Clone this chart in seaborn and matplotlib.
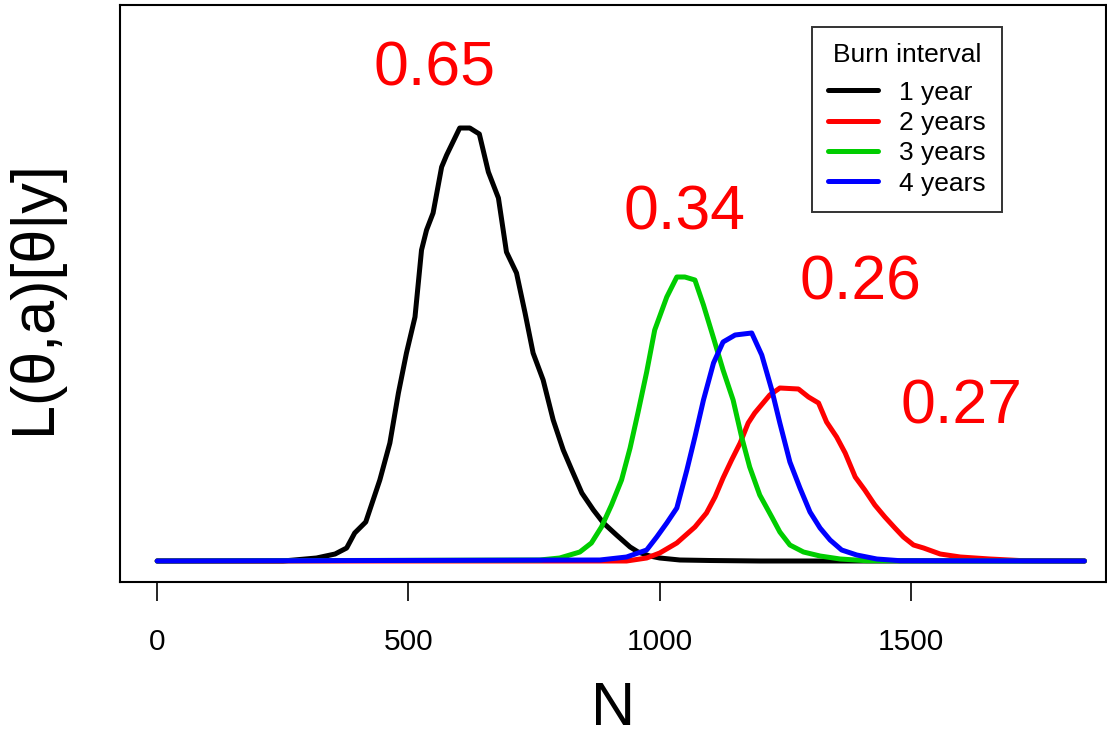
import pandas as pd
import seaborn as sns
import matplotlib
matplotlib.use("Agg")
import matplotlib.pyplot as plt

# curve vertices (N, relative likelihood, arbitrary units)
n_1yr = [0, 250, 317, 354, 377, 393, 415, 443, 463, 480, 496, 513, 526, 536, 549, 566, 576,
         602, 622, 641, 659, 679, 695, 715, 732, 748, 768, 788, 808, 825, 845, 868, 888,
         914, 941, 957, 980, 1000, 1040, 1100, 1200, 1845]
l_1yr = [0, 0, 3, 7, 13, 28, 39, 81, 118, 168, 208, 244, 311, 331, 348, 394, 406,
         433, 433, 427, 389, 363, 309, 288, 248, 208, 181, 141, 111, 91, 68, 51, 38,
         26, 14, 9, 5, 3, 1, 0.5, 0, 0]

n_2yr = [0, 934, 974, 1000, 1034, 1070, 1093, 1110, 1126, 1143, 1160, 1176, 1189, 1219,
         1239, 1276, 1296, 1316, 1332, 1352, 1369, 1389, 1408, 1428, 1448, 1468, 1485,
         1505, 1525, 1558, 1598, 1657, 1723, 1845]
l_2yr = [0, 0, 3, 8, 18, 34, 48, 64, 83, 101, 118, 138, 148, 166,
         173, 172, 164, 158, 139, 124, 108, 84, 71, 56, 44, 33, 24,
         16, 13, 7, 4, 2, 0.3, 0]

n_3yr = [0, 761, 801, 841, 864, 884, 904, 924, 941, 957, 974, 990, 1014, 1034, 1050,
         1070, 1087, 1107, 1126, 1146, 1163, 1179, 1199, 1223, 1239, 1259, 1286, 1319,
         1359, 1412, 1845]
l_3yr = [0, 1, 3, 9, 18, 34, 56, 81, 113, 149, 189, 231, 264, 284, 284,
         281, 256, 223, 191, 161, 124, 94, 66, 44, 29, 16, 9, 5,
         2, 0.3, 0]

n_4yr = [0, 881, 934, 974, 994, 1014, 1034, 1054, 1070, 1087, 1107, 1126, 1150, 1183,
         1203, 1223, 1239, 1259, 1279, 1299, 1319, 1339, 1362, 1392, 1432, 1478, 1845]
l_4yr = [0, 1, 4, 11, 24, 38, 53, 91, 124, 161, 198, 219, 226, 228,
         206, 171, 138, 99, 73, 49, 33, 21, 11, 6, 2, 0.3, 0]

intervals = ["1 year", "2 years", "3 years", "4 years"]
colors = ["#000000", "#FF0000", "#00CD00", "#0000FF"]

# posterior weights written over each curve
weight_text = ["0.65", "0.34", "0.26", "0.27"]
weight_n = [551, 1050, 1399, 1601]
weight_l = [476, 331, 261, 138]

x_ticks = [0, 500, 1000, 1500]

frames = []
for lab, n, l in zip(intervals, [n_1yr, n_2yr, n_3yr, n_4yr], [l_1yr, l_2yr, l_3yr, l_4yr]):
    frames.append(pd.DataFrame({"N": n, "L": l, "interval": lab}))
df = pd.concat(frames, ignore_index=True)

sns.set_style("white")
plt.rcParams["font.family"] = ["Liberation Sans", "DejaVu Sans"]
plt.rcParams["text.color"] = "black"
plt.rcParams["axes.labelcolor"] = "black"
plt.rcParams["xtick.color"] = "black"

fig = plt.figure(figsize=(11.07, 7.31), dpi=100)
ax = fig.add_axes([120 / 1107, 1 - 582 / 731, 986 / 1107, 577 / 731])

sns.lineplot(data=df, x="N", y="L", hue="interval", hue_order=intervals,
             palette=colors, estimator=None, sort=False, linewidth=3.6,
             legend=False, ax=ax)

for t, xn, yl in zip(weight_text, weight_n, weight_l):
    ax.text(xn, yl, t, color="#FF0000", fontsize=45, ha="center", va="baseline")

ax.set_xlim(-74, 1888)
ax.set_ylim(-21, 556)
ax.set_xticks(x_ticks)
ax.set_xticklabels([str(v) for v in x_ticks])
ax.set_yticks([])
ax.tick_params(axis="x", direction="out", length=14, width=1.2, pad=19,
               labelsize=21.5, bottom=True, color="black")
for sp in ax.spines.values():
    sp.set_color("black")
    sp.set_linewidth(1.5)

ax.set_xlabel("N", fontsize=44)
ax.xaxis.set_label_coords(0.5, -0.172)
ax.set_ylabel("L(θ,a)[θ|y]", fontsize=44)
ax.yaxis.set_label_coords(-0.058, 0.493)

leg = ax.legend(handles=ax.lines[:4], labels=intervals, title="Burn interval",
                loc="upper left", bbox_to_anchor=((812 - 120) / 986, 1 - 22 / 577),
                fontsize=19, title_fontsize=19, frameon=True, fancybox=False,
                handlelength=1.9, handletextpad=0.8, labelspacing=0.24,
                borderpad=0.6, borderaxespad=0, edgecolor="black")
leg.get_frame().set_linewidth(1.4)
leg._legend_box.sep = 10

plt.savefig("out.png", dpi=100)
